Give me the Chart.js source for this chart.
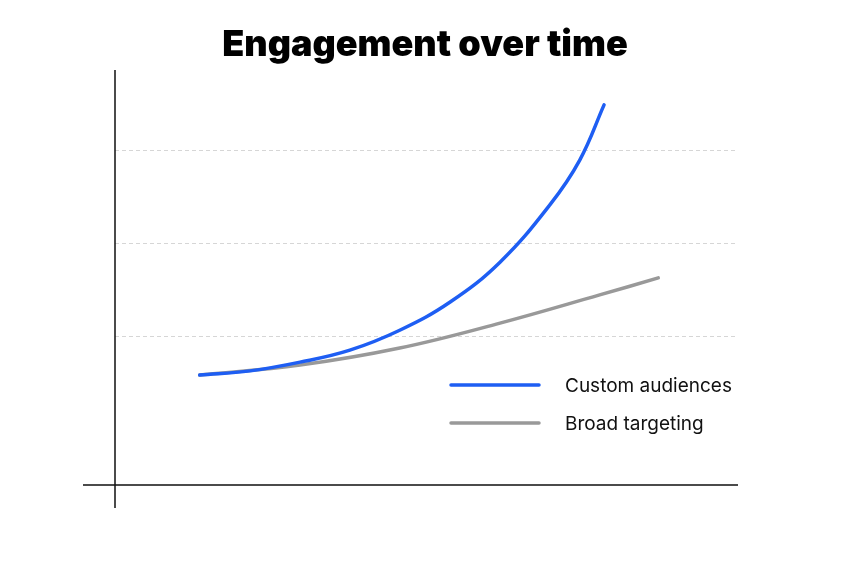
<!DOCTYPE html>
<html>
<head>
<meta charset="utf-8">
<script src="https://cdn.jsdelivr.net/npm/chart.js@4"></script>
<style>
  html, body { margin: 0; padding: 0; background: #fff; }
  #wrap { width: 852px; height: 568px; }
</style>
</head>
<body>
<div id="wrap"><canvas id="c"></canvas></div>
<script>
const titleText = "Engagement over time";
const seriesNames = ["Custom audiences", "Broad targeting"];
const seriesColors = ["#1e5ef3", "#999999"];

const customX = [13.6, 21.7, 29.7, 37.7, 45.7, 53.8, 61.8, 69.8, 74.6, 78.5];
const customY = [26.5, 27.5, 29.6, 32.5, 37.3, 44.1, 53.7, 67.5, 78.3, 91.6];
const broadX = [13.6, 29.7, 45.7, 61.8, 77.8, 87.2];
const broadY = [26.5, 28.9, 33.0, 39.0, 45.8, 49.9];
const gridValues = [35.7, 58.1, 80.5];

const toPoints = (xs, ys) => xs.map((x, i) => ({ x, y: ys[i] }));

const decor = {
  id: "decor",
  afterDraw(chart) {
    const { ctx, chartArea: a } = chart;
    ctx.save();
    ctx.strokeStyle = "#111";
    ctx.lineWidth = 1.5;
    ctx.beginPath();
    ctx.moveTo(a.left, a.top);
    ctx.lineTo(a.left, a.bottom + 23);
    ctx.moveTo(a.left - 32, a.bottom);
    ctx.lineTo(a.right, a.bottom);
    ctx.stroke();

    ctx.fillStyle = "#000";
    ctx.font = "900 36px Inter";
    ctx.textAlign = "center";
    ctx.textBaseline = "middle";
    ctx.fillText(titleText, 425, 45);

    ctx.font = "19px Inter";
    ctx.textAlign = "left";
    chart.data.datasets.forEach((ds, i) => {
      const y = 385 + i * 38;
      ctx.strokeStyle = ds.borderColor;
      ctx.lineWidth = 3.5;
      ctx.lineCap = "round";
      ctx.beginPath();
      ctx.moveTo(451, y);
      ctx.lineTo(539, y);
      ctx.stroke();
      ctx.fillStyle = "#111";
      ctx.fillText(ds.label, 565, y + 1);
    });
    ctx.restore();
  }
};

new Chart(document.getElementById("c"), {
  type: "line",
  data: {
    datasets: [
      { label: seriesNames[0], data: toPoints(customX, customY), borderColor: seriesColors[0] },
      { label: seriesNames[1], data: toPoints(broadX, broadY), borderColor: seriesColors[1] }
    ].map(d => ({ ...d, borderWidth: 3.5, pointRadius: 0, tension: 0.4, borderCapStyle: "round", fill: false }))
  },
  options: {
    responsive: true,
    maintainAspectRatio: false,
    animation: false,
    layout: { padding: { left: 115, right: 114, top: 70, bottom: 75 } },
    plugins: { legend: { display: false }, title: { display: false }, tooltip: { enabled: false } },
    scales: {
      x: {
        type: "linear", min: 0, max: 100,
        ticks: { display: false }, grid: { display: false }, border: { display: false }
      },
      y: {
        min: 0, max: 100,
        afterBuildTicks: (s) => { s.ticks = gridValues.map(v => ({ value: v })); },
        ticks: { display: false },
        grid: { color: "#d6d6d6", lineWidth: 1, drawTicks: false },
        border: { display: false, dash: [4, 3] }
      }
    }
  },
  plugins: [decor]
});
</script>
</body>
</html>
